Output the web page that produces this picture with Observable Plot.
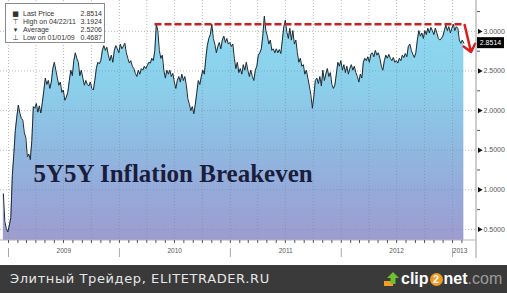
<!DOCTYPE html>
<html><head><meta charset="utf-8">
<script src="https://cdn.jsdelivr.net/npm/d3@7"></script>
<script src="https://cdn.jsdelivr.net/npm/@observablehq/plot@0.6"></script>
<style>
body{margin:0;background:#fff;}
#wrap{position:relative;width:507px;height:293px;overflow:hidden;background:#fff;font-family:"Liberation Sans",Arial,sans-serif;}
#legend{position:absolute;left:5px;top:3px;width:98px;height:38px;background:#fff;border:1px solid #8a8a8a;font-size:7px;color:#333;}
.row{position:absolute;left:0;width:98px;height:8px;line-height:8px;white-space:nowrap;}
.row .ic{position:absolute;left:3px;width:13px;text-align:center;font-family:"DejaVu Sans";}
.row .lb{position:absolute;left:17px;}
.row .vl{position:absolute;right:2px;}
#footer{position:absolute;left:0;top:265px;width:507px;height:28px;background:#3a3a3a;}
#ftext{position:absolute;left:10px;top:0;line-height:28px;font-family:"DejaVu Sans";font-size:13px;color:#e6e6e6;letter-spacing:0.6px;}
#logo{position:absolute;left:383px;top:0;height:28px;display:flex;align-items:center;font-family:"Liberation Sans";font-size:16px;font-weight:bold;color:#fff;}
#logo .two{display:inline-block;width:13px;height:13px;border-radius:50%;background:#f29a1f;color:#fff;font-size:11px;line-height:13px;text-align:center;margin:0 1px;}
#logo .com{color:#9d9d9d;font-weight:normal;}
</style></head>
<body>
<div id="wrap">
  <div id="chart"></div>
  <div id="legend"></div>
  <div id="footer">
    <div id="ftext"></div>
    <div id="logo"><svg width="18" height="16" viewBox="0 0 18 16"><rect x="1" y="10" width="9" height="5" fill="#f0a020"/><path d="M10 1 L16 7 L12.5 7 L12.5 13 L7.5 13 L7.5 7 L4 7 Z" fill="#6cc030"/></svg><span>clip</span><span class="two">2</span><span>net</span><span class="com">.com</span></div>
  </div>
</div>
<script>
// ---- data ----
const startDate = Date.UTC(2008, 11, 15);
const stepDays = 4.936;
const values = [
0.95,0.60,0.51,0.4687,0.55,0.65,1.18,1.45,1.75,1.92,
2.07,1.97,1.90,1.88,1.72,1.66,1.42,1.45,1.38,1.62,
2.05,2.03,2.09,1.98,2.06,1.97,2.10,2.25,2.41,
2.33,2.38,2.28,2.36,2.53,2.61,2.51,2.41,2.32,2.36,
2.23,2.26,2.13,2.17,2.23,2.38,2.51,2.44,2.63,2.73,
2.66,2.61,2.44,2.51,2.41,2.32,2.38,2.33,2.31,2.36,
2.28,2.26,2.38,2.53,2.61,2.59,2.63,2.76,2.82,2.76,
2.80,2.70,2.63,2.70,2.61,2.76,2.82,2.78,2.73,2.84,
2.78,2.81,2.85,2.73,2.66,2.60,2.63,2.56,2.53,2.47,
2.43,2.51,2.46,2.53,2.51,2.56,2.53,2.57,2.61,2.60,
2.66,2.63,2.76,3.09,3.01,2.76,2.66,2.70,2.51,2.41,
2.51,2.46,2.51,2.43,2.47,2.36,2.28,2.38,2.43,2.36,
2.46,2.38,2.43,2.32,2.15,2.08,2.00,2.05,1.96,2.08,
2.23,2.38,2.33,2.43,2.51,2.46,2.66,2.82,2.91,2.96,
3.09,2.91,2.84,2.73,2.81,2.86,2.78,2.89,2.94,2.86,
2.91,2.84,2.86,2.81,2.84,2.66,2.53,2.61,2.48,2.53,
2.46,2.58,2.51,2.61,2.51,2.43,2.51,2.43,2.38,2.51,
2.56,2.70,2.73,2.78,
2.95,3.1924,3.01,2.94,2.84,2.89,2.76,2.78,2.73,2.78,
2.73,2.77,2.72,2.89,3.06,3.14,2.99,2.91,3.04,2.89,
3.01,2.84,2.89,2.73,2.61,2.66,2.56,2.58,2.46,2.51,
2.41,2.31,2.20,2.03,2.18,2.38,2.41,2.34,2.43,2.31,
2.51,2.38,2.46,2.53,2.43,2.48,
2.33,2.28,2.32,2.46,2.61,2.56,2.63,2.51,2.58,2.48,
2.56,2.46,2.53,2.58,2.51,2.56,2.48,2.43,2.36,2.46,
2.41,2.61,2.66,2.63,2.68,2.61,2.71,2.73,2.68,2.76,
2.70,2.73,2.66,2.56,2.51,2.63,2.70,2.66,2.71,2.66,
2.63,2.67,2.61,2.63,2.60,2.66,2.63,2.70,2.67,2.72,
2.68,2.81,2.84,2.76,2.71,2.67,2.73,2.89,3.01,2.94,
2.98,2.91,3.01,2.96,3.04,2.98,3.05,3.01,2.96,3.04,
2.98,2.91,2.89,2.91,2.94,3.01,3.08,3.01,3.06,2.98,
3.04,3.09,3.01,3.06,3.04,2.89,2.85,2.89,2.8514
];
const yDomain = [0.36, 3.39];
const yMajor = [0.5, 1.0, 1.5, 2.0, 2.5, 3.0];
const yMinor = [0.75, 1.25, 1.75, 2.25, 2.75, 3.25];
const quarterDates = ["2009-01-01","2009-04-01","2009-07-01","2009-10-01","2010-01-01","2010-04-01","2010-07-01","2010-10-01","2011-01-01","2011-04-01","2011-07-01","2011-10-01","2012-01-01","2012-04-01","2012-07-01","2012-10-01","2013-01-01"];
const yearStarts = ["2009-01-01","2010-01-01","2011-01-01","2012-01-01","2013-01-01"];
const yearLabels = ["2009","2010","2011","2012","2013"];
const yearLabelAt = ["2009-07-02","2010-07-02","2011-07-02","2012-07-01","2013-01-26"];
const resistance = 3.09;
const resistanceFrom = "2010-04-28";
const resistanceTo = "2013-02-10";
const arrowFrom = ["2013-02-10", 3.08];
const arrowTo = ["2013-03-03", 2.74];
const lastPrice = 2.8514;
const titleText = ["5Y5Y Inflation Breakeven"];
const legendIcons = ["■", "⊤", "▾", "⊥"];
const legendLabels = ["Last Price", "High on 04/22/11", "Average", "Low on 01/01/09"];
const legendValues = ["2.8514", "3.1924", "2.5206", "0.4687"];
const footerText = "Элитный Трейдер, ELITETRADER.RU";

// ---- build ----
const series = values.map((v, i) => ({date: new Date(startDate + i * stepDays * 864e5), value: v}));
const D = s => new Date(s);
const fmt4 = d3.format(".4f");
const grid = {stroke: "#7d8894", strokeOpacity: 0.55, strokeDasharray: "1,2"};

const defsMark = (index, scales, vals, dims) => {
  const defs = d3.create("svg:defs");
  const g = defs.append("linearGradient").attr("id", "bbFill")
    .attr("gradientUnits", "userSpaceOnUse")
    .attr("x1", 0).attr("x2", 0).attr("y1", dims.marginTop).attr("y2", dims.height - dims.marginBottom);
  [[0, "#8edcf2"], [0.35, "#8bd0eb"], [0.6, "#8fbae2"], [0.85, "#97a6d8"], [1, "#9e9ccf"]]
    .forEach(([o, c]) => g.append("stop").attr("offset", o).attr("stop-color", c));
  return defs.node();
};

const frameLines = (index, scales, vals, dims) => {
  const g = d3.create("svg:g");
  const xr = dims.width - dims.marginRight;
  const yb = dims.height - dims.marginBottom;
  g.append("line").attr("x1", xr).attr("x2", xr).attr("y1", 0).attr("y2", yb + 18).attr("stroke", "#9a9a9a");
  g.append("line").attr("x1", 0).attr("x2", xr).attr("y1", yb).attr("y2", yb).attr("stroke", "#b5b5b5");
  return g.node();
};

const lastBox = (index, scales, vals, dims) => {
  const g = d3.create("svg:g");
  const y = scales.y(lastPrice);
  const x0 = dims.width - dims.marginRight + 1;
  g.append("rect").attr("x", x0).attr("y", y - 5.5).attr("width", 27).attr("height", 11).attr("fill", "#000");
  g.append("text").attr("x", x0 + 13.5).attr("y", y).attr("dy", "0.35em").attr("text-anchor", "middle")
    .attr("fill", "#fff").attr("font-size", 7).attr("font-family", "Liberation Sans").text(fmt4(lastPrice));
  return g.node();
};

const plot = Plot.plot({
  width: 507, height: 265,
  marginLeft: 0, marginRight: 31, marginTop: 0, marginBottom: 25,
  style: {background: "transparent", fontFamily: "Liberation Sans", overflow: "visible"},
  x: {type: "utc", domain: [D("2009-01-01"), D("2013-01-01")], range: [8, 452], axis: null, label: null},
  y: {domain: yDomain, range: [240, 0], axis: null, label: null},
  marks: [
    defsMark,
    Plot.areaY(series, {x: "date", y1: yDomain[0], y2: "value", fill: "url(#bbFill)"}),
    Plot.ruleY(yMajor, grid),
    Plot.ruleX(quarterDates.map(D), grid),
    Plot.lineY(series, {x: "date", y: "value", stroke: "#1d2a33", strokeWidth: 1}),
    Plot.ruleY([resistance], {x1: D(resistanceFrom), x2: D(resistanceTo), stroke: "#cc2020", strokeWidth: 2.5, strokeDasharray: "7,3"}),
    Plot.arrow([0], {x1: () => D(arrowFrom[0]), y1: () => arrowFrom[1], x2: () => D(arrowTo[0]), y2: () => arrowTo[1], stroke: "#d81e1e", strokeWidth: 2.5, headLength: 10, headAngle: 80}),
    frameLines,
    Plot.axisY(yMinor, {anchor: "right", tickSize: 3, tickFormat: () => "", stroke: "#555"}),
    Plot.axisY(yMajor, {anchor: "right", tickSize: 0, tickPadding: 7, tickFormat: fmt4, fontSize: 7, fill: "#555"}),
    Plot.dot(yMajor, {y: d => d, frameAnchor: "right", dx: 3, symbol: "triangle", rotate: 90, r: 2, fill: "#111", stroke: null}),
    Plot.axisX(d3.utcMonth.range(D("2009-01-01"), D("2013-02-15")), {anchor: "bottom", tickSize: 3, tickFormat: () => "", stroke: "#555"}),
    Plot.axisX(yearStarts.map(D), {anchor: "bottom", tickSize: 9, dy: 8, tickFormat: () => "", stroke: "#aaa"}),
    Plot.text(yearLabels, {x: (d, i) => D(yearLabelAt[i]), text: d => d, frameAnchor: "bottom", dy: 12, fontSize: 6.5, fill: "#555"}),
    Plot.text(titleText, {text: d => d, frameAnchor: "top-left", dx: 33, dy: 164, textAnchor: "start", fontFamily: "Liberation Serif", fontWeight: "bold", fontSize: 25, fill: "#1b1d3c"}),
    lastBox
  ]
});
document.getElementById("chart").appendChild(plot);

// legend
const leg = document.getElementById("legend");
const rowTops = [6, 13.5, 22, 29.5];
legendLabels.forEach((lab, i) => {
  const r = document.createElement("div");
  r.className = "row";
  r.style.top = rowTops[i] + "px";
  r.innerHTML = `<span class="ic">${legendIcons[i]}</span><span class="lb">${lab}</span><span class="vl">${legendValues[i]}</span>`;
  leg.appendChild(r);
});
document.getElementById("ftext").textContent = footerText;
</script>
</body></html>
